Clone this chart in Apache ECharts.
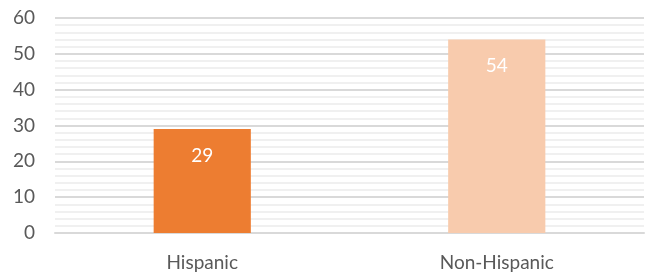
<!DOCTYPE html>
<html>
<head>
<meta charset="utf-8">
<script src="https://cdn.jsdelivr.net/npm/echarts@6/dist/echarts.min.js"></script>
<style>
  html, body { margin: 0; padding: 0; background: #fff; }
  #chart { width: 658px; height: 276px; }
</style>
</head>
<body>
<div id="chart"></div>
<script>
// chart data
const categories = ['Hispanic', 'Non-Hispanic'];
const values = [29, 54];
const barColors = ['#ED7D31', '#F8CBAD'];

const chart = echarts.init(document.getElementById('chart'));
chart.setOption({
  animation: false,
  textStyle: { fontFamily: 'Lato' },
  grid: { left: 55, right: 14, top: 18, bottom: 43 },
  xAxis: {
    type: 'category',
    data: categories,
    axisLine: { show: true, lineStyle: { color: '#d9d9d9', width: 2 } },
    axisTick: { show: false },
    axisLabel: { color: '#595959', fontSize: 19, margin: 20 }
  },
  yAxis: {
    type: 'value',
    min: 0,
    max: 60,
    interval: 10,
    axisLine: { show: false },
    axisTick: { show: false },
    axisLabel: { color: '#595959', fontSize: 19, margin: 20 },
    splitLine: { lineStyle: { color: '#d9d9d9', width: 2 } },
    minorTick: { show: false, splitNumber: 5 },
    minorSplitLine: { show: true, lineStyle: { color: '#f0f0f0', width: 2 } }
  },
  series: [{
    type: 'bar',
    barWidth: '33%',
    data: values.map((v, i) => ({ value: v, itemStyle: { color: barColors[i] } })),
    label: {
      show: true,
      position: 'insideTop',
      distance: 17,
      color: '#ffffff',
      fontSize: 19
    }
  }]
});
</script>
</body>
</html>
